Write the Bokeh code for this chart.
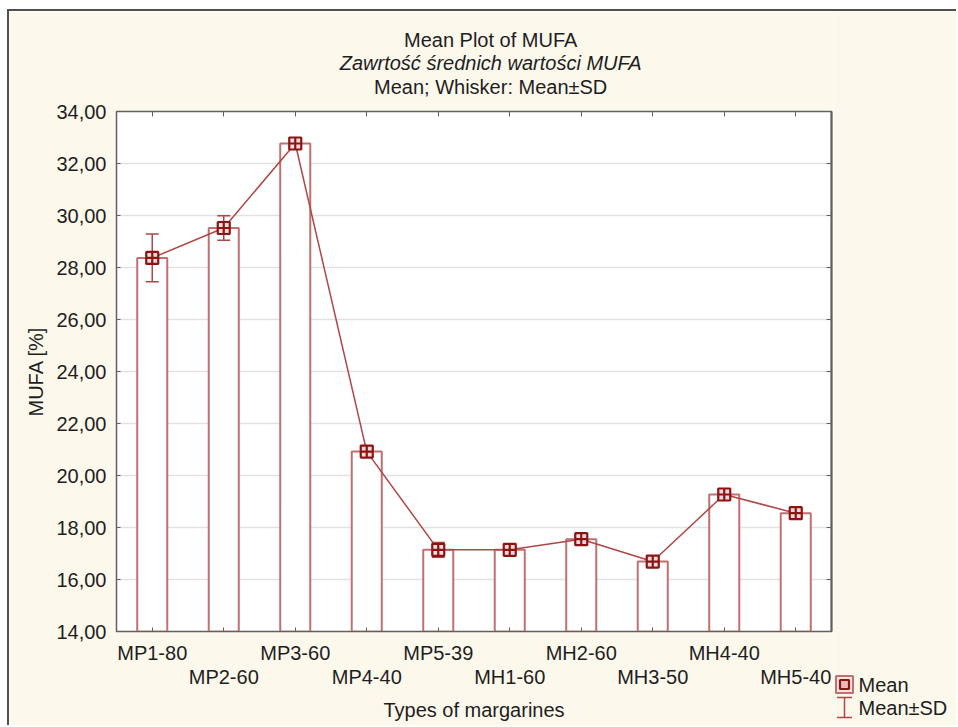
from bokeh.plotting import figure
from bokeh.layouts import row
from bokeh.models import (Range1d, LinearAxis, FixedTicker, ColumnDataSource, Whisker,
                          TeeHead, Title)
from bokeh.core.properties import value
from bokeh.embed import file_html
from bokeh.resources import INLINE

categories = ["MP1-80", "MP2-60", "MP3-60", "MP4-40", "MP5-39",
              "MH1-60", "MH2-60", "MH3-50", "MH4-40", "MH5-40"]
means = [28.37, 29.52, 32.77, 20.92, 17.14, 17.14, 17.55, 16.69, 19.27, 18.55]
sds = [0.92, 0.47, 0.21, 0.18, 0.28, 0.12, 0.10, 0.10, 0.10, 0.10]
y_ticks = [14, 16, 18, 20, 22, 24, 26, 28, 30, 32, 34]
legend_labels = ["Mean", "Mean±SD"]

FONT = "Liberation Sans"
FS = "20px"
TXT = "#1e1e1e"
FRAME = "#606060"
BAR = "#c07070"
LINE = "#b04646"
MARK = "#8e1414"
CREAM = "#fdf8ec"
PAD = "\u00a0" * 6  # shifts centred titles to the right like the reference

xs = list(range(1, len(categories) + 1))
src = ColumnDataSource(dict(
    x=xs, mean=means,
    lower=[m - s for m, s in zip(means, sds)],
    upper=[m + s for m, s in zip(means, sds)],
))

W_MAIN, W_LEG, H = 826, 123, 716

p = figure(width=W_MAIN, height=H, output_backend="svg", toolbar_location=None,
           x_range=Range1d(0.5, len(categories) + 0.5), y_range=Range1d(y_ticks[0], y_ticks[-1]),
           min_border_left=107, min_border_right=4, min_border_top=100, min_border_bottom=96)
p.frame_align = False
p.styles = {"margin-left": "7px", "margin-top": "9px",
            "border-left": "2px solid #505050", "border-top": "2px solid #505050"}
p.background_fill_color = "white"
p.border_fill_color = CREAM
p.outline_line_color = FRAME
p.outline_line_width = 1.5

p.xgrid.visible = False
p.ygrid.ticker = FixedTicker(ticks=y_ticks)
p.ygrid.grid_line_color = "#e2e2e2"
p.ygrid.grid_line_width = 1.5

# y axis
ya = p.yaxis[0]
ya.ticker = FixedTicker(ticks=y_ticks)
ya.major_label_overrides = {t: f"{t:.2f}".replace(".", ",") for t in y_ticks}
ya.axis_label = "MUFA [%]"
ya.major_tick_in = 4
ya.major_tick_out = 0
ya.minor_tick_line_color = None
ya.axis_line_color = FRAME
ya.major_tick_line_color = FRAME
ya.major_label_text_font = FONT
ya.major_label_text_font_size = FS
ya.major_label_text_color = TXT
ya.major_label_standoff = 10
ya.axis_label_text_font = FONT
ya.axis_label_text_font_size = FS
ya.axis_label_text_font_style = "normal"
ya.axis_label_text_color = TXT
ya.axis_label_standoff = 6

# x axis row 1 (odd categories) with ticks
xa = p.xaxis[0]
xa.ticker = FixedTicker(ticks=xs)
xa.major_label_overrides = {x: (c if i % 2 == 0 else "") for i, (x, c) in enumerate(zip(xs, categories))}
xa.major_tick_in = 4
xa.major_tick_out = 0
xa.minor_tick_line_color = None
xa.axis_line_color = FRAME
xa.major_tick_line_color = FRAME
xa.major_label_text_font = FONT
xa.major_label_text_font_size = FS
xa.major_label_text_color = TXT
xa.major_label_standoff = 10

# x axis row 2 (even categories)
xa2 = LinearAxis(ticker=FixedTicker(ticks=xs[1::2]),
                 major_label_overrides={x: c for x, c in zip(xs[1::2], categories[1::2])})
xa2.axis_line_color = None
xa2.major_tick_line_color = None
xa2.minor_tick_line_color = None
xa2.major_label_text_font = FONT
xa2.major_label_text_font_size = FS
xa2.major_label_text_color = TXT
xa2.major_label_standoff = -7
xa2.axis_label = "Types of margarines"
xa2.axis_label_text_font = FONT
xa2.axis_label_text_font_size = FS
xa2.axis_label_text_font_style = "normal"
xa2.axis_label_text_color = TXT
xa2.axis_label_standoff = 8
p.add_layout(xa2, "below")

# top and right tick axes (no labels)
ta = LinearAxis(ticker=FixedTicker(ticks=xs), major_label_overrides={x: "" for x in xs},
                major_label_standoff=0, major_tick_in=5, major_tick_out=0,
                minor_tick_line_color=None, axis_line_color=FRAME, major_tick_line_color=FRAME)
ra = LinearAxis(ticker=FixedTicker(ticks=y_ticks), major_label_overrides={t: "" for t in y_ticks},
                major_label_standoff=0, major_tick_in=5, major_tick_out=0,
                minor_tick_line_color=None, axis_line_color=FRAME, axis_line_width=2,
                major_tick_line_color=FRAME)
# invisible spacer between the top ticks and the titles
spacer = LinearAxis(ticker=FixedTicker(ticks=xs), major_label_overrides={x: "" for x in xs},
                    major_label_standoff=0, major_tick_in=0, major_tick_out=14,
                    minor_tick_line_color=None, axis_line_color=None, major_tick_line_color=None)
p.add_layout(ta, "above")
p.add_layout(spacer, "above")
p.add_layout(ra, "right")

# titles: p.title is outermost, added ones stack outward from the frame
p.title.text = PAD + "Mean Plot of MUFA"
t3 = Title(text=PAD + "Mean; Whisker: Mean±SD")
t2 = Title(text=PAD + "Zawrtość średnich wartości MUFA")
p.add_layout(t3, "above")
p.add_layout(t2, "above")
for t in (p.title, t2, t3):
    t.align = "center"
    t.text_font = FONT
    t.text_font_size = FS
    t.text_color = TXT
    t.text_font_style = "normal"
t2.text_font_style = "italic"
t3.standoff = 0
t2.standoff = -1
p.title.standoff = 0

# bars
p.vbar(x="x", top="mean", bottom=y_ticks[0], width=0.42, source=src,
       fill_color="white", line_color=BAR, line_width=2)
# mean line
p.line(x="x", y="mean", source=src, line_color=LINE, line_width=1.5)
# whiskers
wh = Whisker(base="x", lower="lower", upper="upper", source=src, level="glyph",
             line_color=LINE, line_width=1.5,
             upper_head=TeeHead(size=13, line_color=LINE, line_width=1.5),
             lower_head=TeeHead(size=13, line_color=LINE, line_width=1.5))
p.add_layout(wh)
# markers
p.scatter(x="x", y="mean", source=src, marker="square_cross", size=12,
          fill_color="#f4dcdc", line_color=MARK, line_width=2.2, level="overlay")

# ---- legend panel (pixel coordinates, origin bottom-left) ----
leg = figure(width=W_LEG, height=H, output_backend="svg", toolbar_location=None,
             x_range=Range1d(0, W_LEG), y_range=Range1d(0, H),
             x_axis_type=None, y_axis_type=None,
             min_border_left=0, min_border_right=0, min_border_top=0, min_border_bottom=0)
leg.frame_align = False
leg.styles = {"margin-top": "9px", "border-top": "2px solid #505050"}
leg.background_fill_color = CREAM
leg.border_fill_color = CREAM
leg.outline_line_color = None
leg.grid.visible = False

row_y = [43, 20]
sym_x = 11
# "Mean" symbol: bar box with the mean marker
leg.rect(x=sym_x, y=row_y[0], width=17, height=17, width_units="screen", height_units="screen",
         fill_color="#f7e4e4", line_color=BAR, line_width=2)
leg.scatter(x=sym_x, y=row_y[0], marker="square", size=9,
            fill_color="#e9b8b8", line_color=MARK, line_width=2.2)
# "Mean±SD" symbol: I-beam whisker
leg.segment(x0=[sym_x, sym_x - 7.5, sym_x - 7.5], x1=[sym_x, sym_x + 7.5, sym_x + 7.5],
            y0=[row_y[1] - 10, row_y[1] + 10, row_y[1] - 10],
            y1=[row_y[1] + 10, row_y[1] + 10, row_y[1] - 10],
            line_color=LINE, line_width=1.5)
leg.text(x=[sym_x + 14] * 2, y=row_y, text=legend_labels, text_baseline="middle",
         text_font=value(FONT), text_font_size=FS, text_color=TXT)

layout = row(p, leg, spacing=0)
open("out.html", "w").write(file_html(layout, INLINE))
